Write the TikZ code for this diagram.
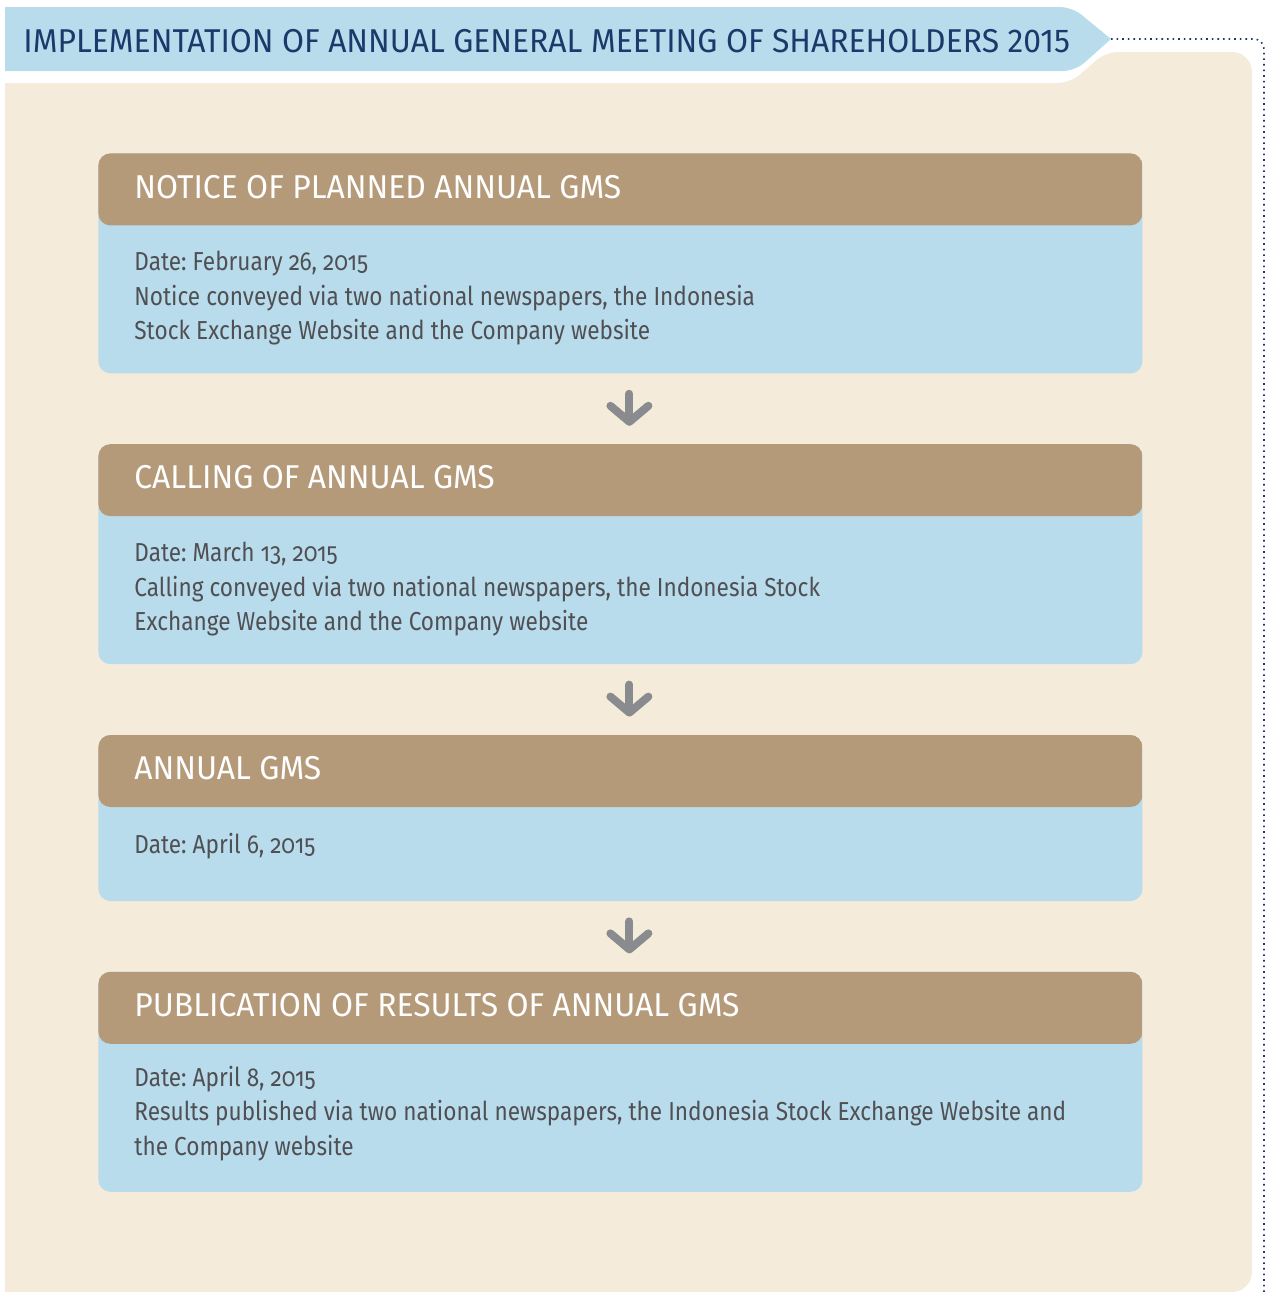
\documentclass[tikz,border=0pt]{standalone}
\usepackage{fontspec}
\setmainfont[FakeStretch=0.965]{Fira Sans}
\newfontfamily\bodyfont[Numbers=OldStyle, FakeStretch=0.87]{Fira Sans}
\usetikzlibrary{positioning,arrows.meta}
\definecolor{paleblue}{HTML}{B8DCEC}
\definecolor{panelbeige}{HTML}{F4EBDB}
\definecolor{headbrown}{HTML}{B59A7A}
\definecolor{arrowgray}{HTML}{8A8B8E}
\definecolor{bodygray}{HTML}{505054}
\definecolor{titleblue}{HTML}{1B3A6B}

\begin{document}
\frenchspacing
\begin{tikzpicture}[
  x=0.5pt, y=-0.5pt,
  node distance=35pt,
  card/.style={minimum width=522pt, rounded corners=6pt, fill=paleblue, inner sep=0pt,
    path picture={\fill[headbrown] (path picture bounding box.north west) rectangle ([yshift=-36pt]path picture bounding box.north east);}},
  head/.style={anchor=base west, inner sep=0pt, text=white, font=\fontsize{16.5}{20}\selectfont},
  info/.style={anchor=north west, inner sep=0pt, align=left, text=bodygray, font=\bodyfont\fontsize{13}{17.25}\selectfont},
  flow/.style={line width=4pt, arrowgray, line cap=round, -{Straight Barb[length=8pt, width=19pt, round]}}
]
\useasboundingbox (0,0) rectangle (1266,1292);
% background panel and banner
\fill[panelbeige] (5,1292) -- (5,83) [rounded corners=6pt] -- (1070,83) -- (1106,52) [rounded corners=10pt] -- (1252,52) -- (1252,1292) [sharp corners] -- (5,1292) -- cycle;
\fill[paleblue] (5,7) [rounded corners=6pt] -- (1072,7) [sharp corners] -- (1111,39) [rounded corners=6pt] -- (1075,71) [sharp corners] -- (5,71) -- cycle;
\node[anchor=base west, inner sep=0pt, text=titleblue, font=\fontsize{16.5}{20}\selectfont] (title) at (23,52) {IMPLEMENTATION OF ANNUAL GENERAL MEETING OF SHAREHOLDERS 2015};
\coordinate (tip) at (1111,39);
\draw[titleblue, line width=0.8pt, dotted, rounded corners=5pt] (tip) -- (1264,39) -- (1264,1292);

% cards
\node[card, minimum height=110pt, anchor=north west] (c1) at (98,153) {};
\node[card, minimum height=110pt, below=of c1] (c2) {};
\node[card, minimum height=83pt, below=of c2] (c3) {};
\node[card, minimum height=110pt, below=of c3] (c4) {};

\node[head] (h1) at ([xshift=18pt, yshift=-22.5pt]c1.north west) {NOTICE OF PLANNED ANNUAL GMS};
\node[head] (h2) at ([xshift=18pt, yshift=-22.5pt]c2.north west) {CALLING OF ANNUAL GMS};
\node[head] (h3) at ([xshift=18pt, yshift=-22.5pt]c3.north west) {ANNUAL GMS};
\node[head] (h4) at ([xshift=18pt, yshift=-22.5pt]c4.north west) {PUBLICATION OF RESULTS OF ANNUAL GMS};

\node[info] (i1) at ([xshift=18pt, yshift=-49pt]c1.north west) {Date: February 26, 2015\\Notice conveyed via two national newspapers, the Indonesia\\Stock Exchange Website and the Company website};
\node[info] (i2) at ([xshift=18pt, yshift=-49pt]c2.north west) {Date: March 13, 2015\\Calling conveyed via two national newspapers, the Indonesia Stock\\Exchange Website and the Company website};
\node[info] (i3) at ([xshift=18pt, yshift=-49pt]c3.north west) {Date: April 6, 2015};
\node[info] (i4) at ([xshift=18pt, yshift=-47pt]c4.north west) {Date: April 8, 2015\\Results published via two national newspapers, the Indonesia Stock Exchange Website and\\the Company website};

% arrows
\draw[flow] ([xshift=4.5pt, yshift=-10pt]c1.south) -- ([xshift=4.5pt, yshift=9pt]c2.north);
\draw[flow] ([xshift=4.5pt, yshift=-10pt]c2.south) -- ([xshift=4.5pt, yshift=9pt]c3.north);
\draw[flow] ([xshift=4.5pt, yshift=-10pt]c3.south) -- ([xshift=4.5pt, yshift=9pt]c4.north);
\end{tikzpicture}
\end{document}
